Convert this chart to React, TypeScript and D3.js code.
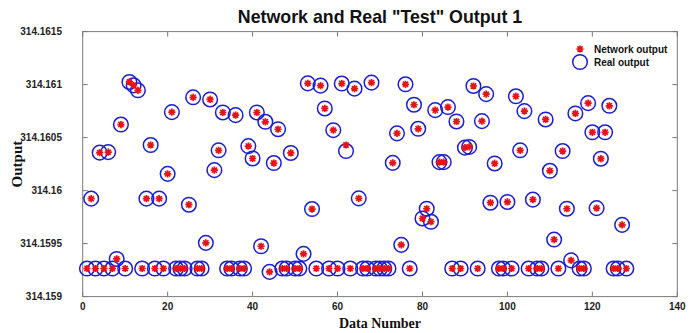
import React from "react";
import * as d3 from "d3";

const network: number[] = [
  314.159265, 314.159924, 314.159265, 314.160358, 314.159265, 314.160363, 314.159265, 314.159355, 314.160623, 314.159265,
  314.161025, 314.160993, 314.160946, 314.159265, 314.159924, 314.160430, 314.159265, 314.159924, 314.159265, 314.160158,
  314.160740, 314.159265, 314.159265, 314.159265, 314.159867, 314.160880, 314.159265, 314.159265, 314.159507, 314.160860,
  314.160193, 314.160380, 314.160737, 314.159265, 314.159265, 314.160712, 314.159265, 314.159265, 314.160420, 314.160303,
  314.160737, 314.159475, 314.160649, 314.159233, 314.160260, 314.160579, 314.159265, 314.159265, 314.160355, 314.159265,
  314.159265, 314.159403, 314.161012, 314.159826, 314.159265, 314.160990, 314.160775, 314.159265, 314.160570, 314.159265,
  314.161010, 314.160430, 314.159265, 314.160962, 314.159927, 314.159265, 314.159265, 314.161019, 314.159265, 314.159265,
  314.159265, 314.159265, 314.160262, 314.160540, 314.159488, 314.161003, 314.159265, 314.160810, 314.160583, 314.159737,
  314.159829, 314.159706, 314.160759, 314.160269, 314.160269, 314.160788, 314.159265, 314.160652, 314.159265, 314.160405,
  314.160412, 314.160987, 314.159265, 314.160655, 314.160910, 314.159886, 314.160256, 314.159265, 314.159265, 314.159893,
  314.159265, 314.160890, 314.160380, 314.160750, 314.159265, 314.159915, 314.159265, 314.159265, 314.160671, 314.160187,
  314.159538, 314.159265, 314.160373, 314.159829, 314.159342, 314.160728, 314.159265, 314.159265, 314.160825, 314.160550,
  314.159835, 314.160301, 314.160550, 314.160800, 314.159265, 314.159265, 314.159677, 314.159265,
];
const real: number[] = [
  314.159265, 314.159924, 314.159265, 314.160358, 314.159265, 314.160363, 314.159265, 314.159355, 314.160623, 314.159265,
  314.161025, 314.160993, 314.160946, 314.159265, 314.159924, 314.160430, 314.159265, 314.159924, 314.159265, 314.160158,
  314.160740, 314.159265, 314.159265, 314.159265, 314.159867, 314.160880, 314.159265, 314.159265, 314.159507, 314.160860,
  314.160193, 314.160380, 314.160737, 314.159265, 314.159265, 314.160712, 314.159265, 314.159265, 314.160420, 314.160303,
  314.160737, 314.159475, 314.160649, 314.159233, 314.160260, 314.160579, 314.159265, 314.159265, 314.160355, 314.159265,
  314.159265, 314.159403, 314.161012, 314.159826, 314.159265, 314.160990, 314.160775, 314.159265, 314.160570, 314.159265,
  314.161010, 314.160373, 314.159265, 314.160962, 314.159927, 314.159265, 314.159265, 314.161019, 314.159265, 314.159265,
  314.159265, 314.159265, 314.160262, 314.160540, 314.159488, 314.161003, 314.159265, 314.160810, 314.160583, 314.159737,
  314.159829, 314.159706, 314.160759, 314.160269, 314.160269, 314.160788, 314.159265, 314.160652, 314.159265, 314.160405,
  314.160412, 314.160987, 314.159265, 314.160655, 314.160910, 314.159886, 314.160256, 314.159265, 314.159265, 314.159893,
  314.159265, 314.160890, 314.160380, 314.160750, 314.159265, 314.159915, 314.159265, 314.159265, 314.160671, 314.160187,
  314.159538, 314.159265, 314.160373, 314.159829, 314.159342, 314.160728, 314.159265, 314.159265, 314.160825, 314.160550,
  314.159835, 314.160301, 314.160550, 314.160800, 314.159265, 314.159265, 314.159677, 314.159265,
];
const xTicks = [0, 20, 40, 60, 80, 100, 120, 140];
const yTicks = [314.159, 314.1595, 314.16, 314.1605, 314.161, 314.1615];
const yTickLabels = ["314.159", "314.1595", "314.16", "314.1605", "314.161", "314.1615"];
const title = 'Network and Real "Test" Output 1';
const xTitle = "Data Number";
const yTitle = "Output";
const legendLabels = ["Network output", "Real output"];

const W = 699, H = 333;
const L = 82.7, R = 677.3, T = 31.6, BOT = 296.6;
const RED = "#e5121a";
const BLUE = "#1c1cd2";
const AXIS = "#7a7a7a";

function starPath(cx: number, cy: number, r: number) {
  const d = r * 0.72;
  return `M${cx - r},${cy}L${cx + r},${cy}M${cx},${cy - r}L${cx},${cy + r}M${cx - d},${cy - d}L${cx + d},${cy + d}M${cx - d},${cy + d}L${cx + d},${cy - d}`;
}

export default function App() {
  const x = d3.scaleLinear().domain([0, 140]).range([L, R]);
  const y = d3.scaleLinear().domain([314.159, 314.1615]).range([BOT, T]);
  const sans = "'Liberation Sans', Arial, sans-serif";
  const serif = "'Liberation Serif', 'Times New Roman', serif";
  const tl = 5;
  return (
    <svg width={W} height={H} style={{ position: "absolute", left: 0, top: 0, background: "#fff" }}>
      <rect x={0} y={0} width={W} height={H} fill="#fff" />
      <text x={(L + R) / 2} y={23} textAnchor="middle" fontFamily={sans} fontWeight="bold" fontSize={17.8} fill="#111">{title}</text>
      <rect x={L} y={T} width={R - L} height={BOT - T} fill="none" stroke={AXIS} strokeWidth={1} />
      {xTicks.map((t) => (
        <g key={"x" + t}>
          <line x1={x(t)} x2={x(t)} y1={BOT} y2={BOT - tl} stroke={AXIS} />
          <line x1={x(t)} x2={x(t)} y1={T} y2={T + tl} stroke={AXIS} />
          <text x={x(t)} y={310} textAnchor="middle" fontFamily={sans} fontWeight="bold" fontSize={10} fill="#222">{t}</text>
        </g>
      ))}
      {yTicks.map((t, i) => (
        <g key={"y" + i}>
          <line x1={L} x2={L + tl} y1={y(t)} y2={y(t)} stroke={AXIS} />
          <line x1={R} x2={R - tl} y1={y(t)} y2={y(t)} stroke={AXIS} />
          <text x={62} y={y(t) + 3.5} textAnchor="end" fontFamily={sans} fontWeight="bold" fontSize={10} fill="#222">{yTickLabels[i]}</text>
        </g>
      ))}
      <text x={(L + R) / 2} y={328} textAnchor="middle" fontFamily={serif} fontWeight="bold" fontSize={14} fill="#111">{xTitle}</text>
      <text transform={`translate(22,${(T + BOT) / 2}) rotate(-90)`} textAnchor="middle" fontFamily={serif} fontWeight="bold" fontSize={15} fill="#111">{yTitle}</text>
      <g>
        {real.map((v, i) => (
          <circle key={"c" + i} cx={x(i + 1)} cy={y(v)} r={7.3} fill="none" stroke={BLUE} strokeWidth={1.5} />
        ))}
      </g>
      <g>
        {network.map((v, i) => (
          <path key={"s" + i} d={starPath(x(i + 1), y(v), 3.6)} stroke={RED} strokeWidth={1.7} fill="none" />
        ))}
      </g>
      <path d={starPath(580, 49, 3.6)} stroke={RED} strokeWidth={1.7} fill="none" />
      <text x={594} y={52.5} fontFamily={sans} fontWeight="bold" fontSize={10} fill="#111">{legendLabels[0]}</text>
      <circle cx={580} cy={62} r={7.3} fill="none" stroke={BLUE} strokeWidth={1.5} />
      <text x={594} y={65.5} fontFamily={sans} fontWeight="bold" fontSize={10} fill="#111">{legendLabels[1]}</text>
    </svg>
  );
}
